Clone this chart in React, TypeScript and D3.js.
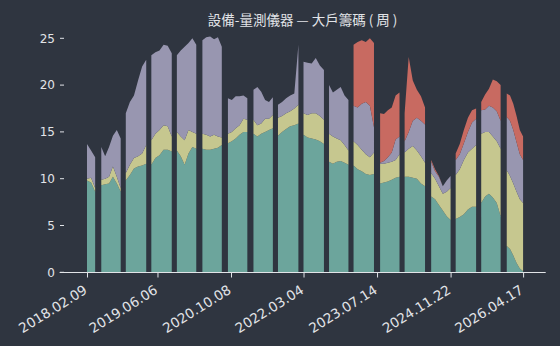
import { useEffect } from "react";
import * as d3 from "d3";

// week-index ranges of each continuous block of data
const segments: [number, number][] = [
  [0, 7], [14, 32], [38, 57], [63, 82], [88, 106], [113, 131],
  [138, 156], [163, 181], [187, 206], [212, 231], [237, 255], [261, 280],
  [287, 305], [311, 330], [337, 355], [361, 380], [386, 404], [411, 426],
];

const tickIdx = [0, 69, 141, 212, 284, 356, 427];
const tickLabels = ["2018.02.09", "2019.06.06", "2020.10.08", "2022.03.04", "2023.07.14", "2024.11.22", "2026.04.17"];
const yTicks = [0, 5, 10, 15, 20, 25];

// series values, sampled across each block
const teal = [
  [9.8, 9.6, 8.6],
  [9.3, 9.4, 9.5, 10.2, 9.5, 8.6],
  [9.8, 10.4, 11.1, 11.3, 11.4, 11.6],
  [11.5, 12.2, 12.5, 13.1, 13.1, 12.9],
  [13.0, 12.4, 11.5, 12.7, 13.4, 13.2],
  [13.2, 13.1, 13.1, 13.2, 13.3, 13.6],
  [13.8, 14.0, 14.3, 14.7, 15.0, 15.0],
  [14.8, 14.5, 14.8, 15.0, 15.2, 15.4],
  [14.6, 15.0, 15.3, 15.6, 15.7, 15.9],
  [14.7, 14.4, 14.3, 14.2, 14.0, 13.7],
  [11.8, 11.6, 11.8, 11.9, 11.7, 11.5],
  [11.4, 11.0, 10.8, 10.5, 10.4, 10.5],
  [9.5, 9.6, 9.7, 9.9, 10.1, 10.2],
  [10.2, 10.2, 10.1, 10.0, 9.5, 9.2],
  [8.1, 7.8, 7.2, 6.6, 6.0, 5.6],
  [5.7, 5.9, 6.2, 6.7, 7.0, 7.0],
  [7.4, 8.1, 8.4, 8.0, 7.4, 6.0],
  [2.8, 2.5, 1.8, 1.0, 0.4, 0.1],
];

const yellow = [
  [0.2, 0.5, 0.4],
  [0.6, 0.6, 0.7, 1.1, 0.7, 0.4],
  [0.8, 1.1, 1.1, 1.1, 1.3, 2.0],
  [2.6, 2.6, 2.7, 2.6, 2.5, 1.6],
  [2.0, 2.1, 2.6, 2.5, 1.6, 1.6],
  [1.6, 1.6, 1.4, 1.5, 1.2, 0.8],
  [1.0, 1.0, 1.1, 1.0, 1.4, 1.3],
  [1.5, 1.2, 1.1, 1.4, 1.2, 1.4],
  [1.9, 1.7, 1.7, 1.6, 1.8, 2.0],
  [2.3, 2.4, 2.7, 2.8, 2.7, 2.6],
  [3.0, 2.9, 2.5, 2.2, 1.9, 1.5],
  [2.6, 2.6, 2.3, 2.1, 1.9, 2.3],
  [2.1, 2.0, 2.0, 1.9, 1.9, 2.4],
  [2.6, 3.0, 3.4, 3.0, 2.9, 2.5],
  [2.5, 2.2, 2.0, 1.8, 2.6, 3.4],
  [4.7, 5.1, 5.8, 6.1, 6.2, 6.6],
  [7.4, 6.9, 6.6, 6.5, 6.6, 7.2],
  [8.1, 7.8, 7.7, 7.6, 7.4, 7.3],
];

const purple = [
  [3.7, 2.9, 3.3],
  [3.5, 2.4, 3.2, 3.3, 5.0, 5.3],
  [6.4, 6.7, 6.7, 8.1, 9.3, 9.1],
  [9.1, 8.7, 8.5, 8.6, 8.6, 8.9],
  [8.2, 9.2, 10.0, 9.3, 10.0, 9.5],
  [10.0, 10.4, 10.7, 10.2, 10.6, 9.7],
  [3.8, 3.4, 3.4, 3.1, 2.5, 2.3],
  [3.2, 4.1, 3.4, 2.0, 1.8, 1.9],
  [1.4, 1.5, 1.6, 1.7, 1.6, 6.4],
  [5.5, 5.6, 5.3, 5.9, 5.4, 5.3],
  [5.2, 4.7, 5.2, 5.7, 5.3, 5.4],
  [3.8, 4.0, 4.9, 5.6, 5.5, 2.7],
  [0.1, 0.3, 0.6, 1.0, 2.2, 1.9],
  [1.2, 1.8, 2.7, 3.5, 3.8, 4.1],
  [1.2, 0.8, 1.0, 0.8, 1.2, 1.3],
  [1.6, 1.6, 1.8, 2.2, 2.8, 2.8],
  [2.5, 2.4, 2.8, 3.1, 3.2, 3.0],
  [5.7, 5.9, 5.7, 5.3, 4.8, 4.6],
];

const red = [
  [0, 0, 0],
  [0, 0, 0, 0, 0, 0],
  [0, 0, 0, 0, 0, 0],
  [0, 0, 0, 0, 0, 0],
  [0, 0, 0, 0, 0, 0],
  [0, 0, 0, 0, 0, 0],
  [0, 0, 0, 0, 0, 0],
  [0, 0, 0, 0, 0, 0],
  [0, 0, 0, 0, 0, 0],
  [0, 0, 0, 0, 0, 0],
  [0, 0, 0, 0, 0, 0],
  [6.5, 7.0, 6.8, 6.4, 7.2, 9.0],
  [5.3, 5.0, 5.0, 4.8, 4.7, 4.7],
  [3.0, 8.0, 4.3, 3.0, 2.6, 1.8],
  [0.2, 0.2, 0.1, 0, 0, 0],
  [0.7, 1.1, 1.4, 1.5, 1.3, 1.1],
  [0.9, 1.6, 1.8, 3.0, 3.2, 3.8],
  [2.5, 2.7, 2.8, 2.8, 2.6, 2.5],
];

const keys = ["teal", "yellow", "purple", "red"];
const colors: Record<string, string> = {
  teal: "#6ca59c",
  yellow: "#c6c78f",
  purple: "#9896b0",
  red: "#c86a61",
};

const BG = "#2f3540";
const FG = "#e2e4e8";
const title = "設備-量測儀器 — 大戶籌碼 ( 周 )";

export default function App() {
  useEffect(() => {
    document.body.style.margin = "0";
    document.body.style.background = BG;
  }, []);

  const W = 560, H = 346;
  const x = d3.scaleLinear().domain([0, 427]).range([87.5, 523.6]);
  const y = d3.scaleLinear().domain([0, 25]).range([272.3, 38.3]);

  const stack = d3.stack<any>().keys(keys);
  const area = d3.area<any>()
    .x(d => x(d.data.pos))
    .y0(d => y(d[0]))
    .y1(d => y(d[1]));

  const blocks = segments.map(([s, e], si) => {
    const n = teal[si].length;
    const rows = teal[si].map((_, j) => ({
      pos: s - 0.5 + (j * (e - s + 1)) / (n - 1),
      teal: teal[si][j],
      yellow: yellow[si][j],
      purple: purple[si][j],
      red: red[si][j],
    }));
    return stack(rows);
  });

  const numFont = "'DejaVu Sans', sans-serif";

  return (
    <svg width={W} height={H} style={{ display: "block", background: BG }}>
      <rect width={W} height={H} fill={BG} />
      <text x={302.6} y={25} textAnchor="middle" fill={FG} fontSize={13.5}
        style={{ fontFamily: "'Noto Sans CJK TC', 'Noto Sans', sans-serif", whiteSpace: "pre" }}>
        {title}
      </text>

      {blocks.map((layers, bi) => (
        <g key={bi}>
          {layers.map(L => (
            <path key={L.key} d={area(L) ?? ""} fill={colors[L.key]} />
          ))}
        </g>
      ))}

      {/* y axis */}
      {yTicks.map(t => (
        <g key={t}>
          <line x1={60} x2={64} y1={y(t)} y2={y(t)} stroke={FG} strokeWidth={1} />
          <text x={55} y={y(t)} dy="0.36em" textAnchor="end" fill={FG} fontSize={12}
            style={{ fontFamily: numFont }}>{t}</text>
        </g>
      ))}

      {/* x axis */}
      <line x1={59.6} x2={545.7} y1={272.5} y2={272.5} stroke={FG} strokeWidth={1.2} />
      {tickIdx.map((t, i) => (
        <g key={t}>
          <line x1={x(t)} x2={x(t)} y1={272.5} y2={277.5} stroke={FG} strokeWidth={1} />
          <text transform={`translate(${x(t) - 4},${285}) rotate(-32)`} textAnchor="end"
            dy="0.65em" fill={FG} fontSize={13.5} style={{ fontFamily: numFont }}>
            {tickLabels[i]}
          </text>
        </g>
      ))}
    </svg>
  );
}
